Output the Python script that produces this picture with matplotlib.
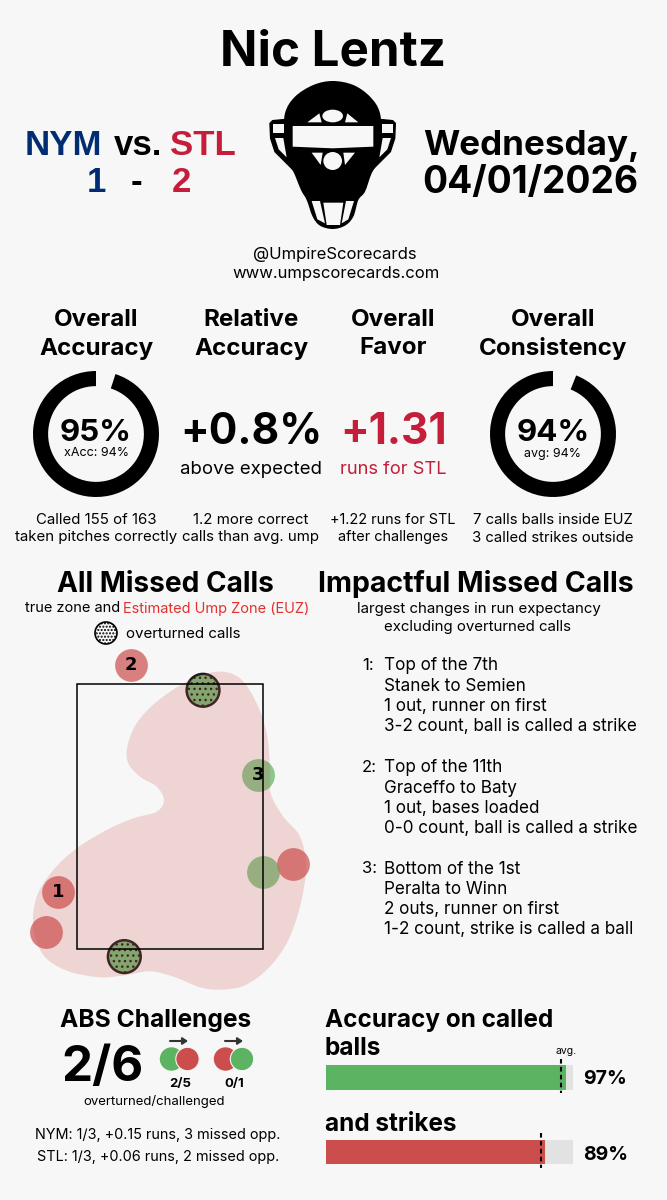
import numpy as np
import matplotlib
matplotlib.use("Agg")
import matplotlib.pyplot as plt
from matplotlib.path import Path
from matplotlib.patches import PathPatch, Circle, Ellipse, Polygon, Rectangle

BG = "#f7f7f7"
RED = "#cc4e4c"
GREEN = "#5cb361"
NAVY = "#002d72"
CRIM = "#c41e3a"
FONT = "Inter"
HEAD = "Liberation Sans"

# ---- data ----
umpire = "Nic Lentz"
away, home = "NYM", "STL"
away_runs, home_runs = 1, 2
game_date = ["Wednesday,", "04/01/2026"]
overall_accuracy = 95
overall_consistency = 94
zone_half_width = 0.833
zone_bottom, zone_top = 1.5, 3.863

miss_x = [-0.348, 1.101, -1.0, -1.11]
miss_y = [4.03, 2.259, 2.003, 1.646]
good_x = [0.789, 0.827]
good_y = [3.051, 2.182]
over_x = [0.295, -0.408]
over_y = [3.807, 1.429]
label_x = [-1.0, -0.348, 0.789]
label_y = [2.003, 4.03, 3.051]
label_txt = ["1", "2", "3"]

euz_x = [.417,.625,.774,.863,.893,.899,1.012,1.161,1.214,1.161,1.042,.863,.655,.446,.268,.030,-.179,-.387,
         -.625,-.923,-1.131,-1.220,-1.190,-1.042,-.833,-.565,-.327,-.119,-.054,-.119,-.268,-.372,-.381,-.298,-.119,.149]
euz_y = [3.973,3.914,3.690,3.423,3.125,2.887,2.679,2.5,2.232,1.875,1.548,1.31,1.167,1.134,1.155,1.25,1.298,1.265,
         1.244,1.304,1.443,1.696,1.964,2.202,2.396,2.56,2.664,2.723,2.827,2.946,3.036,3.155,3.304,3.512,3.705,3.884]

bar_names = ["balls", "strikes"]
bar_values = [97, 88.6]
bar_avg = [95, 87.2]
bar_labels = ["97%", "89%"]

headers = [(96, ["Overall", "Accuracy"]), (251, ["Relative", "Accuracy"]),
           (393, ["Overall", "Favor"]), (553, ["Overall", "Consistency"])]
footers = [(96, ["Called 155 of 163", "taken pitches correctly"]),
           (251, ["1.2 more correct", "calls than avg. ump"]),
           (393, ["+1.22 runs for STL", "after challenges"]),
           (553, ["7 calls balls inside EUZ", "3 called strikes outside"])]
impact = [("1:", ["Top of the 7th", "Stanek to Semien", "1 out, runner on first", "3-2 count, ball is called a strike"]),
          ("2:", ["Top of the 11th", "Graceffo to Baty", "1 out, bases loaded", "0-0 count, ball is called a strike"]),
          ("3:", ["Bottom of the 1st", "Peralta to Winn", "2 outs, runner on first", "1-2 count, strike is called a ball"])]

# ---- figure ----
W, H = 667, 1200
fig = plt.figure(figsize=(W/100, H/100), dpi=100, facecolor=BG)
plt.rcParams["hatch.linewidth"] = 1.0

def px_axes(x0, y0, x1, y1, **kw):
    return fig.add_axes([x0/W, 1-y1/H, (x1-x0)/W, (y1-y0)/H], **kw)

ov = px_axes(0, 0, W, H)
ov.set_xlim(0, W); ov.set_ylim(H, 0); ov.axis("off")

def T(x, y, s, size, weight="normal", color="black", ha="center", family=FONT, **kw):
    return ov.text(x, y, s, fontsize=size, fontweight=weight, color=color, ha=ha,
                   va="center_baseline", family=family, **kw)

T(333, 47, umpire, 35.5, "bold")
T(63.5, 142, away, 25, "bold", NAVY, family=HEAD)
T(138.5, 142, "vs.", 25, "bold", family=HEAD)
T(202.5, 142, home, 25, "bold", CRIM, family=HEAD)
T(96, 179, str(away_runs), 25, "bold", NAVY, family=HEAD)
T(136, 179, "-", 25, "bold", family=HEAD)
T(181, 179, str(home_runs), 25, "bold", CRIM, family=HEAD)
T(531, 142, game_date[0], 25.2, "bold")
T(530.5, 179, game_date[1], 26.7, "bold")
T(335, 253, "@UmpireScorecards", 12)
T(336, 272, "www.umpscorecards.com", 12)

# mask icon
mk = px_axes(230, 60, 440, 250)
mk.set_xlim(0, 630); mk.set_ylim(570, 0); mk.axis("off")

def smooth_closed(xs, ys):
    p = np.column_stack([xs, ys]); n = len(p)
    v = [p[0]]; c = [Path.MOVETO]
    for i in range(n):
        p0, p1, p2, p3 = p[(i-1) % n], p[i], p[(i+1) % n], p[(i+2) % n]
        v += [p1+(p2-p0)/6, p2-(p3-p1)/6, p2]
        c += [Path.CURVE4]*3
    return Path(np.array(v), c)

shell = [(308,63),(370,75),(420,110),(450,160),(455,250),(448,300),(425,340),(405,395),(385,420),(370,470),(345,497),
         (308,507),(270,497),(248,470),(230,420),(213,390),(190,335),(168,300),(162,240),(165,160),(195,110),(250,75)]
mk.add_patch(PathPatch(smooth_closed(*zip(*shell)), fc="black", ec="none"))
ear_l = [(170,178),(128,182),(120,190),(122,235),(135,275),(195,335),(175,240)]
ear_hole = [[(130,193),(162,193),(162,218),(130,218)], [(135,234),(160,234),(170,292),(146,268)]]
mk.add_patch(Polygon(ear_l, fc="black", ec="black", lw=1, joinstyle="round"))
mk.add_patch(Polygon([(616-x, y) for x, y in ear_l], fc="black", ec="black", lw=1, joinstyle="round"))
for h in ear_hole:
    mk.add_patch(Polygon(h, fc=BG, ec="none"))
    mk.add_patch(Polygon([(618-x, y) for x, y in h], fc=BG, ec="none"))
for poly in [[(188,198),(430,198),(430,260),(308,265),(188,260)],
             [(232,187),(268,160),(275,187)], [(345,187),(352,160),(385,187)],
             [(245,278),(278,278),(272,315)], [(340,278),(375,278),(345,315)],
             [(245,423),(270,423),(285,490),(262,478)], [(280,428),(340,428),(330,495),(290,495)],
             [(348,423),(372,423),(355,478),(335,490)]]:
    mk.add_patch(Polygon(poly, fc=BG, ec="none"))
mk.add_patch(Ellipse((308,168), 62, 38, fc=BG, ec="none"))
mk.add_patch(Ellipse((308,303), 56, 54, fc=BG, ec="none"))

# section headers
for x, lines in headers:
    T(x, 317, lines[0], 17.4, "bold")
    T(x, 346, lines[1], 17.4, "bold")
for (x, lines), fs in zip(footers, [10.8, 10.8, 10.4, 10.7]):
    T(x, 518, lines[0], fs)
    T(x, 536, lines[1], fs)

# rings
def ring(cx, cy, val):
    r = 63
    a = px_axes(cx-r-1, cy-r-1, cx+r+1, cy+r+1)
    a.pie([100-val, val], startangle=90, counterclock=False, colors=["none", "black"], radius=1.0,
          wedgeprops=dict(width=0.24, linewidth=0))
    a.set_xlim(-(r+1)/r, (r+1)/r); a.set_ylim(-(r+1)/r, (r+1)/r)

ring(96, 434, overall_accuracy)
ring(553, 434, overall_consistency)
T(96, 430, f"{overall_accuracy}%", 22.5, "bold")
T(96, 452, "xAcc: 94%", 9)
T(553, 430, f"{overall_consistency}%", 22.5, "bold")
T(553, 452, "avg: 94%", 9)
T(251, 428, "+0.8%", 30.5, "bold")
T(251, 467, "above expected", 13.4)
T(394, 428, "+1.31", 30.5, "bold", CRIM)
T(393, 467, "runs for STL", 13.2, color=CRIM)

# zone
T(165, 581, "All Missed Calls", 20.2, "bold")
T(120, 607, "true zone and", 10.5, ha="right")
T(123, 607, "Estimated Ump Zone (EUZ)", 10.5, color="#e2312f", ha="left")
T(126, 633, "overturned calls", 10.9, ha="left")
ov.add_patch(Circle((106, 633), 11, fc=BG, ec="black", lw=1.2, hatch="....."))

sc = 112.0
z = px_axes(0, 640, 320, 1000)
z.set_xlim((0-170)/sc, (320-170)/sc)
z.set_ylim(zone_bottom-(1000-948.67)/sc, zone_bottom+(948.67-640)/sc)
z.axis("off"); z.patch.set_alpha(0)
S = 557
z.scatter(miss_x, miss_y, s=S, color=RED, alpha=0.7, linewidths=0, zorder=2, clip_on=False)
z.scatter(good_x, good_y, s=S, color=GREEN, alpha=0.7, linewidths=0, zorder=2, clip_on=False)
z.scatter(over_x, over_y, s=S, facecolors=[matplotlib.colors.to_rgba(GREEN, 0.85)]*2, edgecolors="#1c1c1c",
          hatch="...", linewidths=1.8, zorder=3, clip_on=False)
z.add_patch(PathPatch(smooth_closed(euz_x, euz_y), fc=RED, alpha=0.2, ec="none", zorder=4, clip_on=False))
z.add_patch(Rectangle((-zone_half_width, zone_bottom), 2*zone_half_width, zone_top-zone_bottom,
                      fc="none", ec="black", lw=1.1, zorder=5))
for lx, ly, t in zip(label_x, label_y, label_txt):
    z.text(lx, ly, t, fontsize=13, fontweight="bold", ha="center", va="center", zorder=6)

# impactful
T(476, 581, "Impactful Missed Calls", 20.5, "bold")
T(479, 607, "largest changes in run expectancy", 10.8)
T(478, 625, "excluding overturned calls", 10.8)
for (num, lines), y0 in zip(impact, [664, 766, 867]):
    T(362, y0, num, 12, ha="left")
    for i, l in enumerate(lines):
        T(384, y0+i*20.3, l, 12.3, ha="left")

# ABS
T(156, 1018, "ABS Challenges", 17.7, "bold")
T(102, 1063, "2/6", 35.5, "bold")
def duo(cx0, cx1, c0, c1, ax0, ax1):
    ov.add_patch(Circle((cx0, 1059), 11.7, fc=c0, ec="none"))
    ov.add_patch(Circle((cx1, 1059), 11.7, fc=c1, ec=BG, lw=0.8))
    ov.annotate("", xy=(ax1, 1041), xytext=(ax0, 1041),
                arrowprops=dict(arrowstyle="-|>,head_width=0.2,head_length=0.3", color="#333333", lw=1.5, shrinkA=0, shrinkB=0))
duo(171.5, 187.5, GREEN, RED, 170, 188)
duo(225.5, 242, RED, GREEN, 225, 243)
T(180, 1082, "2/5", 9.5, "bold")
T(234, 1082, "0/1", 9.5, "bold")
T(154, 1100, "overturned/challenged", 9.5)
T(158, 1133, "NYM: 1/3, +0.15 runs, 3 missed opp.", 10.4)
T(158, 1156, "STL: 1/3, +0.06 runs, 2 missed opp.", 10.4)

# accuracy bars
T(325, 1018, "Accuracy on called", 17.5, "bold", ha="left")
T(325, 1046, "balls", 17.5, "bold", ha="left")
T(325, 1122, "and strikes", 17.5, "bold", ha="left")
T(566, 1050, "avg.", 7.5)
b = px_axes(325.5, 1055, 573, 1175)
b.set_xlim(0, 100); b.set_ylim(1.309, -0.302); b.axis("off"); b.patch.set_alpha(0)
pos = [0, 1]
b.barh(pos, [100, 100], height=0.329, color="#e2e2e2", linewidth=0)
b.barh(pos, bar_values, height=0.329, color=[GREEN, RED], linewidth=0)
for p, a_ in zip(pos, bar_avg):
    b.plot([a_, a_], [p-0.25, p+0.21], color="black", lw=1.5, ls=(0, (2.2, 1.6)))
T(583, 1077, bar_labels[0], 14, "bold", ha="left")
T(583, 1153, bar_labels[1], 14, "bold", ha="left")

fig.savefig("out.png", dpi=100, facecolor=BG)
